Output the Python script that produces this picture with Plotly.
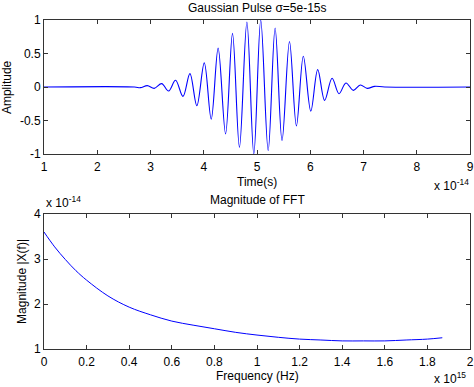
import plotly.graph_objects as go

# ---- Top: Gaussian pulse (time in units of 1e-14 s) ----
pulse_t = [1.0, 2.70, 2.81, 2.94, 3.07, 3.21, 3.34, 3.47, 3.61, 3.74, 3.87, 4.01, 4.14,
           4.27, 4.41, 4.54, 4.67, 4.81, 4.94, 5.07, 5.21, 5.34, 5.47, 5.61, 5.74,
           5.87, 6.01, 6.14, 6.27, 6.41, 6.54, 6.67, 6.81, 6.94, 7.07, 7.21, 7.40, 9.0]
pulse_amp = [0.0, 0.0, -0.01, 0.02, -0.02, 0.05, -0.06, 0.10, -0.14, 0.20, -0.28, 0.36, -0.48,
             0.58, -0.70, 0.80, -0.90, 0.97, -1.0, 1.0, -0.95, 0.88, -0.80, 0.68, -0.58,
             0.46, -0.36, 0.26, -0.20, 0.13, -0.10, 0.06, -0.05, 0.03, -0.02, 0.01, 0.0, 0.0]

# ---- Bottom: FFT magnitude (freq in units of 1e15 Hz, magnitude in 1e-14) ----
fft_f = [0.0, 0.05, 0.1, 0.15, 0.2, 0.3, 0.4, 0.5, 0.6, 0.7, 0.8, 0.9, 1.0,
         1.1, 1.2, 1.3, 1.4, 1.5, 1.6, 1.7, 1.8, 1.87]
fft_mag = [3.60, 3.27, 2.99, 2.74, 2.53, 2.18, 1.93, 1.76, 1.62, 1.53, 1.45, 1.37, 1.31,
           1.26, 1.22, 1.20, 1.18, 1.18, 1.18, 1.20, 1.22, 1.25]

top_xticks = [1, 2, 3, 4, 5, 6, 7, 8, 9]
top_yticks = [-1, -0.5, 0, 0.5, 1]
top_ylabels = ["-1", "-0.5", "0", "0.5", "1"]
bot_xticks = [0, 0.2, 0.4, 0.6, 0.8, 1, 1.2, 1.4, 1.6, 1.8, 2]
bot_xlabels = ["0", "0.2", "0.4", "0.6", "0.8", "1", "1.2", "1.4", "1.6", "1.8", "2"]
bot_yticks = [1, 2, 3, 4]

FONT = "Liberation Sans, Arial, sans-serif"
BLUE = "rgb(0,0,255)"

fig = go.Figure()
fig.add_trace(go.Scatter(x=pulse_t, y=pulse_amp, mode="lines", xaxis="x", yaxis="y",
                         line=dict(color=BLUE, width=1.1, shape="spline", smoothing=1.0),
                         showlegend=False))
fig.add_trace(go.Scatter(x=fft_f, y=fft_mag, mode="lines", xaxis="x2", yaxis="y2",
                         line=dict(color=BLUE, width=1, shape="spline"),
                         showlegend=False))

axis_common = dict(showline=True, linecolor="#333", linewidth=1, mirror="ticks",
                   ticks="inside", ticklen=4, tickcolor="#333", showgrid=False,
                   zeroline=False, automargin=False,
                   tickfont=dict(family=FONT, size=12, color="black"))

fig.update_layout(
    width=474, height=387,
    paper_bgcolor="white", plot_bgcolor="white",
    margin=dict(l=44, r=4, t=20, b=38, autoexpand=False),
    font=dict(family=FONT, size=12, color="black"),
    xaxis=dict(domain=[0, 1], range=[1, 9], tickvals=top_xticks, anchor="y",
               ticklabelstandoff=2, **axis_common),
    yaxis=dict(domain=[0.5927, 1], range=[-1, 1], tickvals=top_yticks, ticktext=top_ylabels,
               anchor="x", **axis_common),
    xaxis2=dict(domain=[0, 1], range=[0, 2], tickvals=bot_xticks, ticktext=bot_xlabels,
                anchor="y2", ticklabelstandoff=2, **axis_common),
    yaxis2=dict(domain=[0, 0.4103], range=[1, 4], tickvals=bot_yticks,
                anchor="x2", **axis_common),
)

annots = [
    dict(text="Gaussian Pulse σ=5e-15s", x=0.5, y=1.0365, xanchor="center", yanchor="middle"),
    dict(text="Magnitude of FFT", x=0.5, y=0.453, xanchor="center", yanchor="middle"),
    dict(text="Time(s)", x=0.5, y=0.5076, xanchor="center", yanchor="middle"),
    dict(text="Frequency (Hz)", x=0.5, y=-0.082, xanchor="center", yanchor="middle"),
    dict(text="Amplitude", x=-0.0869, y=0.796, xanchor="center", yanchor="middle", textangle=-90),
    dict(text="Magnitude |X(f)|", x=-0.0516, y=0.204, xanchor="center", yanchor="middle",
         textangle=-90),
    dict(text="x 10<sup>-14</sup>", x=0.913, y=0.498, xanchor="left", yanchor="middle"),
    dict(text="x 10<sup>15</sup>", x=0.913, y=-0.088, xanchor="left", yanchor="middle"),
    dict(text="x 10<sup>-14</sup>", x=0.002, y=0.447, xanchor="left", yanchor="middle"),
]
for a in annots:
    a.update(showarrow=False, xref="paper", yref="paper", borderpad=0,
             font=dict(family=FONT, size=12, color="black"))
    fig.add_annotation(**a)

fig.write_html("out.html", config={"displayModeBar": False},
               post_script="document.body.style.margin='0';document.body.style.overflow='hidden';")
